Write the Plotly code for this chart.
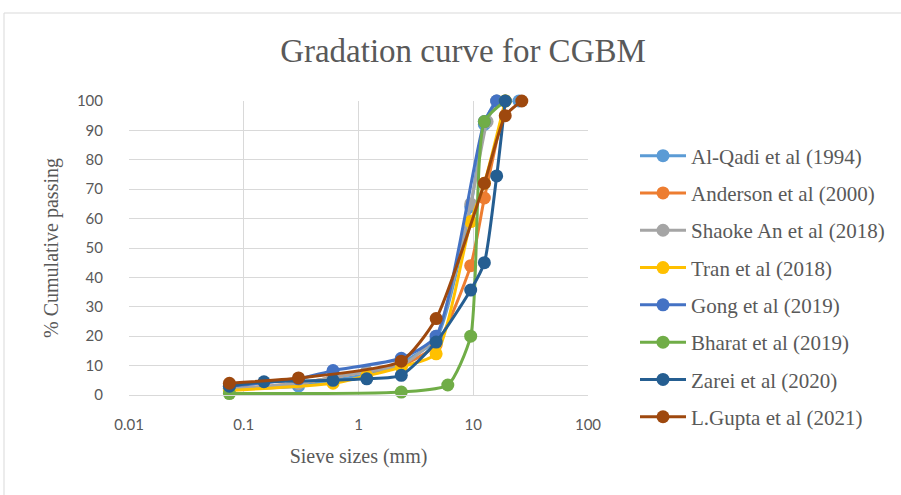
import plotly.graph_objects as go

names = ["Al-Qadi et al (1994)", "Anderson et al (2000)", "Shaoke An et al (2018)",
         "Tran et al (2018)", "Gong et al (2019)", "Bharat et al (2019)",
         "Zarei et al (2020)", "L.Gupta et al (2021)"]
colors = ["#5B9BD5", "#ED7D31", "#A5A5A5", "#FFC000", "#4472C4", "#70AD47", "#255E91", "#9E480E"]

alqadi_x = [0.075, 0.3, 0.6, 1.18, 2.36, 4.75, 9.5, 12.5, 16, 25]
alqadi_y = [2, 3, 5, 7, 11, 19, 64, 92, 100, 100]
anderson_x = [0.075, 0.3, 0.6, 1.18, 2.36, 4.75, 9.5, 12.5, 19]
anderson_y = [2, 4, 6, 8, 10, 17, 44, 67, 100]
shaoke_x = [0.075, 0.3, 0.6, 1.18, 2.36, 4.75, 9.5, 13.2, 16]
shaoke_y = [2, 4, 6, 8, 10, 20, 65, 93, 100]
tran_x = [0.075, 0.6, 1.18, 2.36, 4.75, 9.5, 12.5, 19]
tran_y = [1.5, 4, 6.5, 9.5, 14, 59, 72, 100]
gong_x = [0.075, 0.3, 0.6, 2.36, 4.75, 12.5, 16]
gong_y = [3, 5.5, 8.3, 12.5, 20, 93, 100]
bharat_x = [0.075, 2.36, 6, 9.5, 12.5, 19]
bharat_y = [0.5, 1, 3.4, 20, 93, 100]
zarei_x = [0.075, 0.15, 0.6, 1.18, 2.36, 4.75, 9.5, 12.5, 16, 19]
zarei_y = [3, 4.5, 5, 5.5, 6.7, 18, 35.7, 45, 74.5, 100]
gupta_x = [0.075, 0.3, 2.36, 4.75, 12.5, 19, 26.5]
gupta_y = [4, 5.8, 11.5, 26, 72, 95, 100]

series = [(alqadi_x, alqadi_y), (anderson_x, anderson_y), (shaoke_x, shaoke_y),
          (tran_x, tran_y), (gong_x, gong_y), (bharat_x, bharat_y),
          (zarei_x, zarei_y), (gupta_x, gupta_y)]

y_ticks = list(range(0, 101, 10))
x_ticks = [0.01, 0.1, 1, 10, 100]
x_ticklabels = ["0.01", "0.1", "1", "10", "100"]

fig = go.Figure()
for name, color, (xs, ys) in zip(names, colors, series):
    fig.add_trace(go.Scatter(
        x=xs, y=ys, name=name, mode="lines+markers",
        line=dict(color=color, width=3, shape="spline", smoothing=0.6),
        marker=dict(color=color, size=13),
        legendgroup=name, cliponaxis=False,
    ))

grid = "#D9D9D9"
fig.update_layout(
    width=901, height=495,
    margin=dict(l=129, r=313, t=101, b=100, autoexpand=False),
    paper_bgcolor="white", plot_bgcolor="white",
    title=dict(text="Gradation curve for CGBM", x=463 / 901, xref="container", xanchor="center",
               y=1 - 50 / 495, yref="container", yanchor="middle",
               font=dict(family="Liberation Serif", size=33, color="#595959")),
    font=dict(family="Lato", color="#595959"),
    legend=dict(x=1.1024, y=(395 - 135.5) / 294, xanchor="left", yanchor="top",
                traceorder="grouped", tracegroupgap=7, itemwidth=46, maxheight=400,
                font=dict(family="Liberation Serif", size=21, color="#595959"),
                bgcolor="rgba(0,0,0,0)"),
    showlegend=True,
)
fig.update_xaxes(type="log", range=[-2, 2], tickvals=x_ticks, ticktext=x_ticklabels,
                 showgrid=True, gridcolor=grid, gridwidth=1,
                 showline=True, linecolor=grid, linewidth=1, zeroline=False,
                 ticks="", ticklabelstandoff=16,
                 tickfont=dict(family="Lato", size=15, color="#595959"),
                 title=dict(text="Sieve sizes (mm)", standoff=16,
                            font=dict(family="Liberation Serif", size=20, color="#595959")))
fig.update_yaxes(range=[0, 100], tickvals=y_ticks,
                 showgrid=True, gridcolor=grid, gridwidth=1,
                 showline=False, zeroline=False,
                 ticks="", ticklabelstandoff=25,
                 tickfont=dict(family="Lato", size=15, color="#595959"),
                 title=dict(text="% Cumulative passing", standoff=12,
                            font=dict(family="Liberation Serif", size=20, color="#595959")))
fig.add_shape(type="rect", xref="paper", yref="paper",
              x0=(4 - 129) / 459, x1=(905 - 129) / 459,
              y0=(395 - 500) / 294, y1=(395 - 13) / 294,
              line=dict(color="#D9D9D9", width=1), fillcolor="rgba(0,0,0,0)", layer="below")

fig.write_html("out.html")
